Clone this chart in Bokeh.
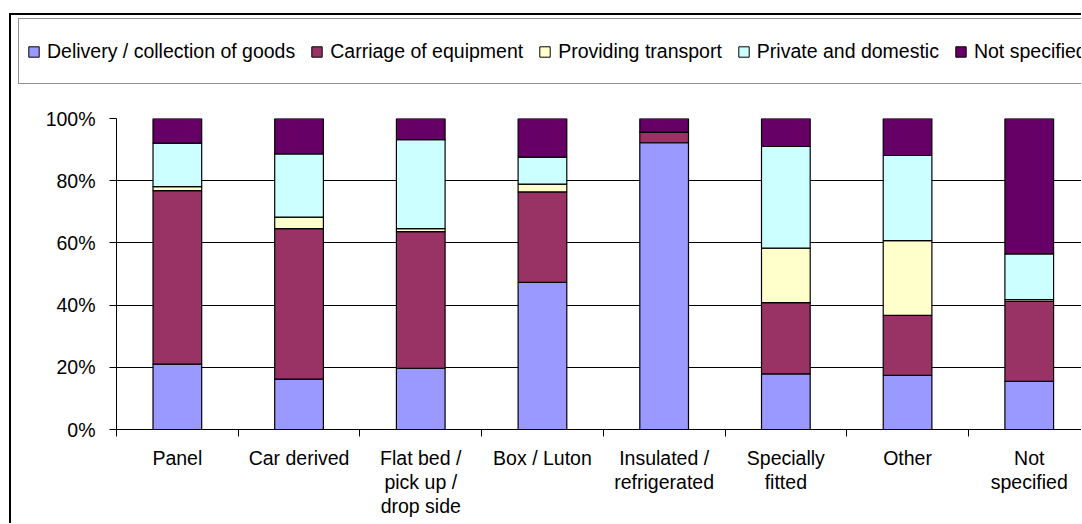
from bokeh.plotting import figure
from bokeh.layouts import column, row
from bokeh.models import (ColumnDataSource, Range1d, FixedTicker, Legend, LegendItem)
from bokeh.embed import file_html
from bokeh.resources import INLINE

# ---- data (percent of each body type) ----
categories = ["Panel", "Car derived", "Flat bed /\npick up /\ndrop side", "Box / Luton",
              "Insulated /\nrefrigerated", "Specially\nfitted", "Other", "Not\nspecified"]
series_names = ["Delivery / collection of goods", "Carriage of equipment",
                "Providing transport", "Private and domestic", "Not specified"]
delivery = [21.0, 16.2, 19.7, 47.3, 92.2, 17.9, 17.4, 15.5]
carriage = [55.8, 48.4, 43.9, 29.1, 3.4, 22.9, 19.3, 25.8]
transport = [1.3, 3.7, 1.0, 2.5, 0.0, 17.5, 24.0, 0.5]
private = [14.0, 20.3, 28.6, 8.7, 0.0, 32.7, 27.4, 14.7]
not_spec = [7.9, 11.4, 6.8, 12.4, 4.4, 9.0, 11.9, 43.5]
y_ticks = [0, 20, 40, 60, 80, 100]
y_tick_labels = ["0%", "20%", "40%", "60%", "80%", "100%"]

colors = ["#9999FF", "#993366", "#FFFFCC", "#CCFFFF", "#660066"]
keys = ["s0", "s1", "s2", "s3", "s4"]

xs = [i + 0.5 for i in range(len(categories))]
src = ColumnDataSource(dict(x=xs, s0=delivery, s1=carriage, s2=transport, s3=private, s4=not_spec))

FONT = "Liberation Sans"
FS = "19.5px"

W = 1070
LEG_H = 80
H = 428
LEFT, TOP, BOTTOM = 105, 23, 94

# ---- legend strip (its own small figure; its bars sit outside its view) ----
pl = figure(width=W, height=LEG_H, output_backend="svg", toolbar_location=None,
            x_range=Range1d(0, 8), y_range=Range1d(1000, 1001),
            x_axis_location=None, y_axis_location=None,
            min_border_left=0, min_border_right=0, min_border_top=0, min_border_bottom=0)
pl.grid.visible = False
pl.outline_line_color = None
leg_rs = pl.vbar_stack(keys, x="x", width=0.4, color=colors, line_color="black", source=src)
legend = Legend(items=[LegendItem(label=n, renderers=[r]) for n, r in zip(series_names, leg_rs)],
                orientation="horizontal", location=(7, 11),
                label_text_font=FONT, label_text_font_size=FS, label_text_color="black",
                glyph_width=13, glyph_height=13, label_standoff=7, spacing=15,
                padding=8, margin=0, label_height=48,
                border_line_color="#222222", border_line_width=1,
                background_fill_color="white", background_fill_alpha=1.0)
pl.add_layout(legend)

# ---- main chart ----
p = figure(width=W, height=H, output_backend="svg", toolbar_location=None,
           x_range=Range1d(0, (W - LEFT) / 121.7), y_range=Range1d(0, 100),
           min_border_left=LEFT, min_border_right=0, min_border_top=TOP, min_border_bottom=BOTTOM)
p.outline_line_color = None
p.background_fill_color = "white"
p.border_fill_color = "white"

rs = p.vbar_stack(keys, x="x", width=0.4, color=colors, line_color="black", line_width=1.2, source=src)

xa = p.xaxis[0]
xa.ticker = FixedTicker(ticks=xs, minor_ticks=list(range(len(categories) + 1)))
xa.major_label_overrides = {x: c for x, c in zip(xs, categories)}
xa.major_tick_line_color = None
xa.major_tick_out = 0
xa.major_tick_in = 0
xa.minor_tick_line_color = "black"
xa.minor_tick_in = 0
xa.minor_tick_out = 7
xa.major_label_standoff = 10
xa.major_label_text_line_height = 1.1
xa.axis_line_color = "black"
xa.major_label_text_font = FONT
xa.major_label_text_font_size = FS
xa.major_label_text_color = "black"

ya = p.yaxis[0]
ya.ticker = FixedTicker(ticks=y_ticks)
ya.major_label_overrides = {t: l for t, l in zip(y_ticks, y_tick_labels)}
ya.minor_tick_line_color = None
ya.major_tick_in = 0
ya.major_tick_out = 7
ya.major_tick_line_color = "black"
ya.axis_line_color = "black"
ya.major_label_standoff = 14
ya.major_label_text_font = FONT
ya.major_label_text_font_size = FS
ya.major_label_text_color = "black"

p.xgrid.grid_line_color = None
p.ygrid.ticker = FixedTicker(ticks=y_ticks)
p.ygrid.grid_line_color = "black"
p.ygrid.grid_line_width = 1

layout = column(row(pl, spacing=0), p, spacing=0,
                styles={"border-left": "2px solid #000", "border-top": "2px solid #000",
                        "margin-top": "13px", "margin-left": "9px"})

open("out.html", "w").write(file_html(layout, INLINE))
